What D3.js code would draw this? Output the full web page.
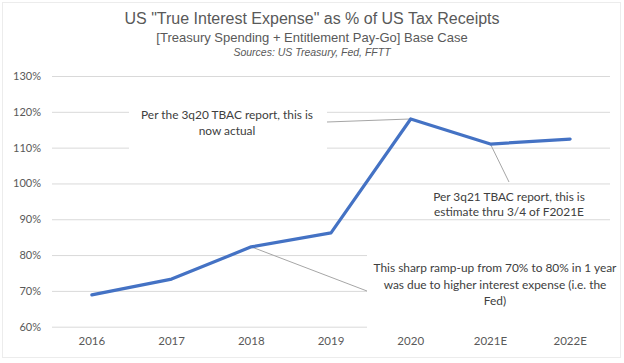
<!DOCTYPE html>
<html><head><meta charset="utf-8">
<script src="https://cdn.jsdelivr.net/npm/d3@7"></script>
<style>
html,body{margin:0;padding:0;background:#fff;}
svg{display:block;}
</style></head>
<body>
<svg id="chart" width="624" height="363"></svg>
<script>
const categories = ["2016","2017","2018","2019","2020","2021E","2022E"];
const values = [68.9, 73.3, 82.3, 86.2, 118.0, 111.0, 112.4];
const yTicks = [60,70,80,90,100,110,120,130];
const titleLines = ['US "True Interest Expense" as % of US Tax Receipts',
  '[Treasury Spending + Entitlement Pay-Go] Base Case',
  'Sources: US Treasury, Fed, FFTT'];
const annotations = [
  {lines:["Per the 3q20 TBAC report, this is","now actual"], cat:"2020", val:118.0},
  {lines:["Per 3q21 TBAC report, this is","estimate thru 3/4 of F2021E"], cat:"2021E", val:111.0},
  {lines:["This sharp ramp-up from 70% to 80% in 1 year","was due to higher interest expense (i.e. the","Fed)"], cat:"2018", val:82.3}
];

const svg = d3.select("#chart");
const mLeft = 52, mRight = 610, mTop = 76, mBottom = 326.7;
const x = d3.scaleBand().domain(categories).range([mLeft, mRight]);
const y = d3.scaleLinear().domain([60,130]).range([mBottom, mTop]);
const textCol = "#595959";
const font = "Lato, 'Open Sans', sans-serif";

// outer frame
svg.append("rect").attr("x",2.5).attr("y",2.5).attr("width",618).attr("height",355)
  .attr("fill","none").attr("stroke","#d9d9d9").attr("stroke-dasharray","1,1");

// titles
svg.append("text").attr("x",312).attr("y",24).attr("text-anchor","middle")
  .attr("font-family","'Liberation Sans', Arial, sans-serif").attr("font-size",16).attr("fill",textCol).text(titleLines[0]);
svg.append("text").attr("x",312).attr("y",42).attr("text-anchor","middle")
  .attr("font-family","'Liberation Sans', Arial, sans-serif").attr("font-size",13).attr("fill",textCol).text(titleLines[1]);
svg.append("text").attr("x",312).attr("y",56).attr("text-anchor","middle").attr("font-style","italic")
  .attr("font-family","'Liberation Sans', Arial, sans-serif").attr("font-size",10.5).attr("fill",textCol).text(titleLines[2]);

// y axis grid + labels
const yAxis = d3.axisLeft(y).tickValues(yTicks).tickSize(-(mRight-mLeft)).tickFormat(d=>d+"%").tickPadding(11);
const gy = svg.append("g").attr("transform",`translate(${mLeft},0)`).call(yAxis);
gy.select(".domain").remove();
gy.selectAll(".tick line").attr("stroke","#d9d9d9").attr("stroke-width",1);
gy.selectAll(".tick text").attr("fill",textCol).attr("font-family",font).attr("font-size",11);

// x axis labels
const xAxis = d3.axisBottom(x).tickSize(0).tickPadding(10);
const gx = svg.append("g").attr("transform",`translate(0,${mBottom})`).call(xAxis);
gx.select(".domain").remove();
gx.selectAll(".tick text").attr("fill",textCol).attr("font-family",font).attr("font-size",11.5);

// annotation boxes (white, cover gridlines)
const cx = c => x(c) + x.bandwidth()/2;
const boxes = [
  {x0:129, x1:327, y0:100, y1:150},
  {x0:420, x1:600, y0:186, y1:217},
  {x0:367, x1:620, y0:250, y1:332}
];
boxes.forEach(b=>{
  svg.append("rect").attr("x",b.x0).attr("y",b.y0).attr("width",b.x1-b.x0).attr("height",b.y1-b.y0).attr("fill","#fff");
});

// leader lines
const leaders = [
  {x1:327, y1:122, ai:0},
  {x1:509, y1:182, ai:1},
  {x1:367, y1:291, ai:2}
];
leaders.forEach(l=>{
  const a = annotations[l.ai];
  svg.append("line").attr("x1",cx(a.cat)).attr("y1",y(a.val)).attr("x2",l.x1).attr("y2",l.y1)
    .attr("stroke","#a6a6a6").attr("stroke-width",1);
});

// series line
const line = d3.line().x((d,i)=>cx(categories[i])).y(d=>y(d));
svg.append("path").datum(values).attr("d",line).attr("fill","none")
  .attr("stroke","#4472C4").attr("stroke-width",3.2).attr("stroke-linejoin","round").attr("stroke-linecap","round");

// annotation texts
const textPos = [{x:227, y:119, dy:16}, {x:509, y:201, dy:15}, {x:495, y:272, dy:16.5}];
annotations.forEach((a,i)=>{
  const p = textPos[i];
  const t = svg.append("text").attr("text-anchor","middle").attr("font-family",font).attr("font-size",11.9).attr("fill","#404040");
  a.lines.forEach((ln,j)=>{
    t.append("tspan").attr("x",p.x).attr("y",p.y + j*p.dy).text(ln);
  });
});
</script>
</body></html>
